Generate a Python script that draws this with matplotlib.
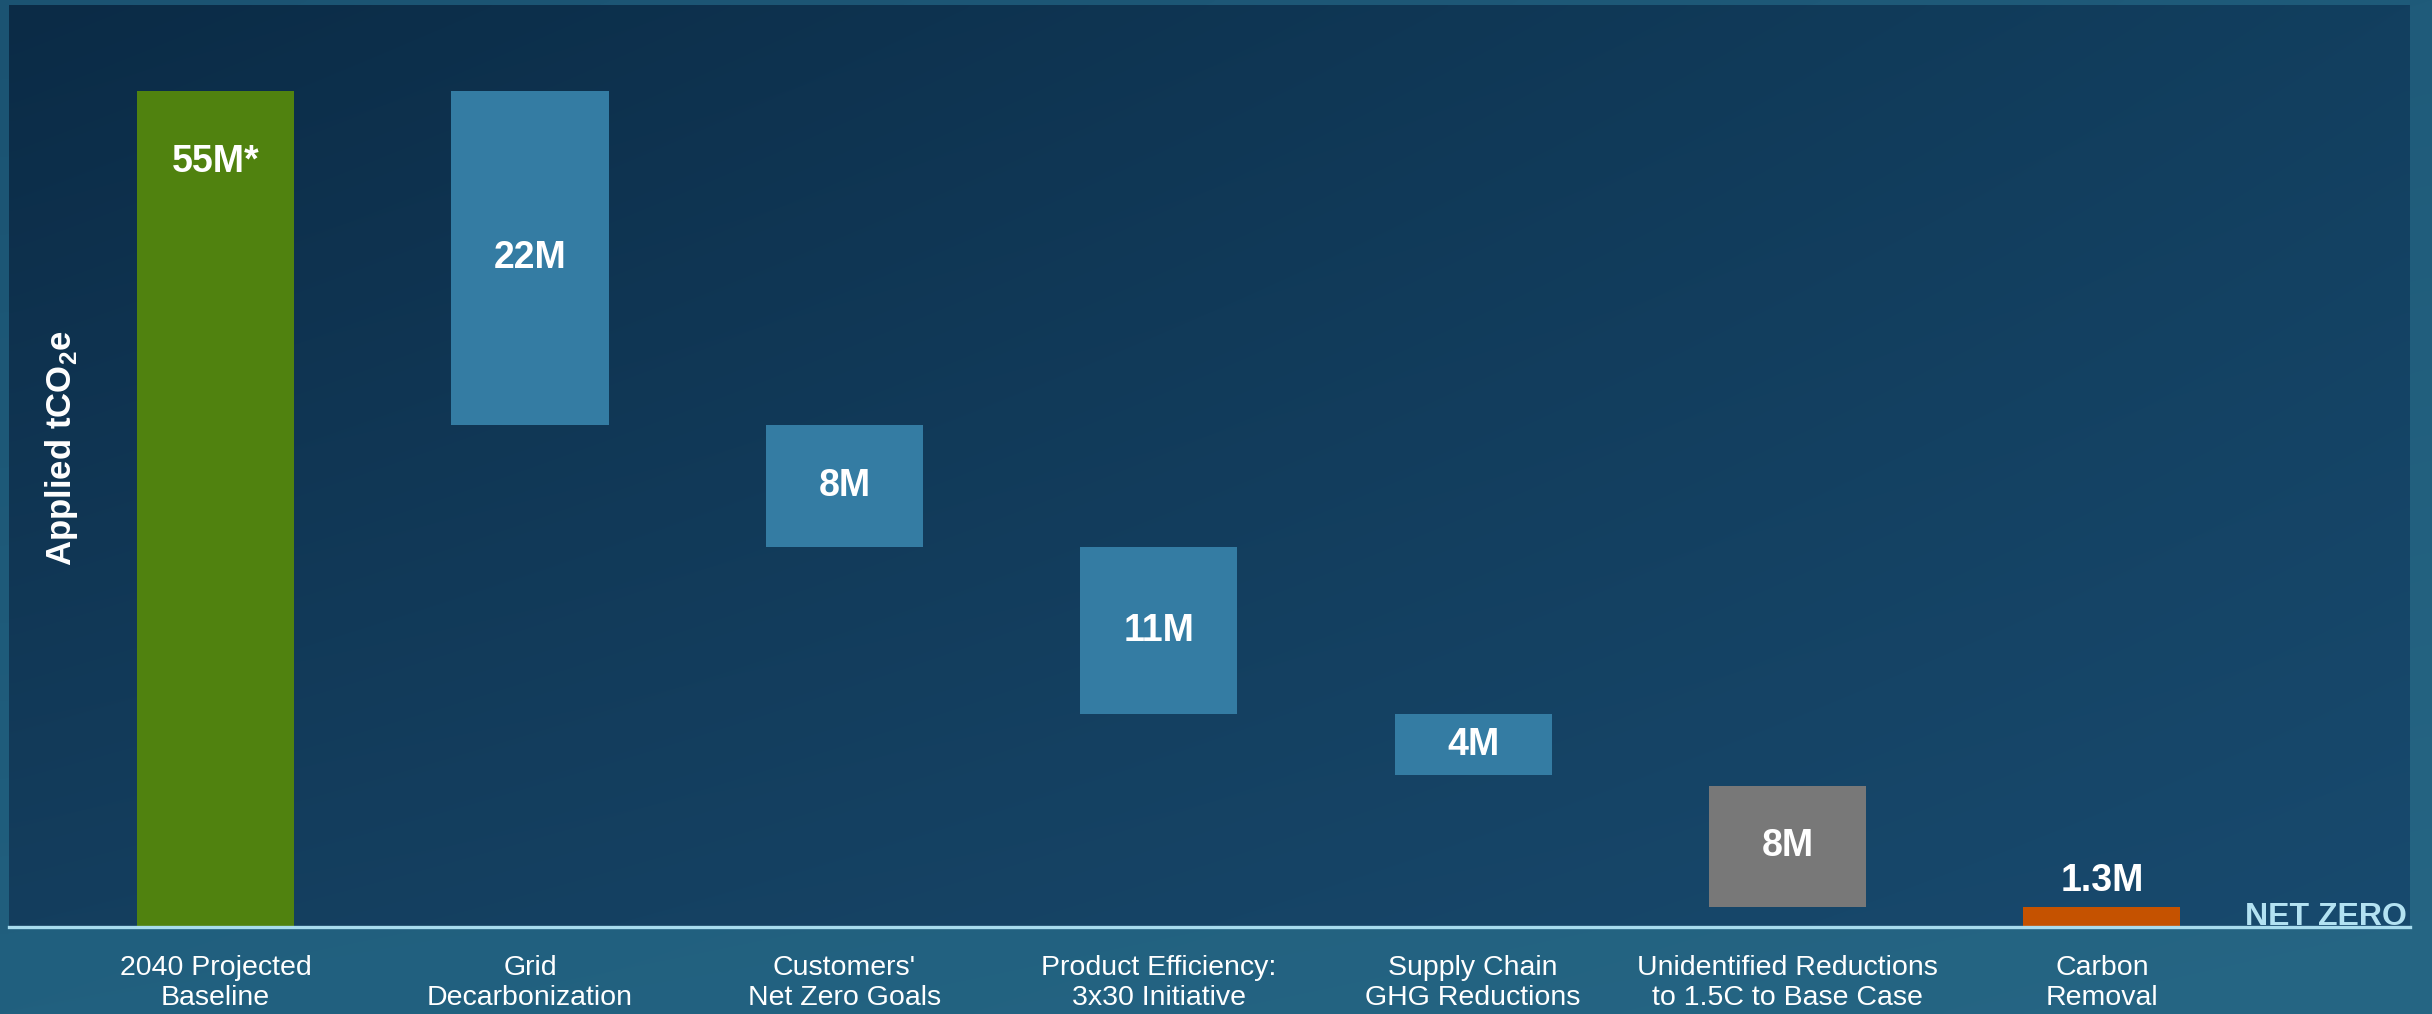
import numpy as np
import matplotlib
matplotlib.use("Agg")
import matplotlib.pyplot as plt
from matplotlib.colors import to_rgb
import matplotlib.transforms as mtransforms

plt.rcParams["font.family"] = ["Liberation Sans", "DejaVu Sans"]
plt.rcParams["mathtext.fontset"] = "custom"
plt.rcParams["mathtext.rm"] = "Liberation Sans"
plt.rcParams["mathtext.bf"] = "Liberation Sans:bold"

# ---- data -------------------------------------------------------------
categories = [
    "2040 Projected\nBaseline",
    "Grid\nDecarbonization",
    "Customers'\nNet Zero Goals",
    "Product Efficiency:\n3x30 Initiative",
    "Supply Chain\nGHG Reductions",
    "Unidentified Reductions\nto 1.5C to Base Case",
    "Carbon\nRemoval",
]
values = [55, 22, 8, 11, 4, 8, 1.3]          # million tCO2e
value_labels = ["55M*", "22M", "8M", "11M", "4M", "8M", "1.3M"]
bar_colors = ["#50820f", "#347ca3", "#347ca3", "#347ca3", "#347ca3",
              "#787878", "#c55200"]

# waterfall floors: identified reductions step down from the baseline,
# the remaining pieces stack up from net zero
bottoms = [0.0]
level = values[0]
for v in values[1:5]:
    level -= v
    bottoms.append(level)
bottoms.append(values[6])   # unidentified sits on top of carbon removal
bottoms.append(0.0)         # carbon removal starts at net zero

# ---- figure -----------------------------------------------------------
W, H = 2432, 1014
fig = plt.figure(figsize=(W / 100, H / 100), dpi=100)


def corner_gradient(tl, tr, bl, br, n=256):
    tl, tr, bl, br = (np.array(to_rgb(c)) for c in (tl, tr, bl, br))
    u = np.linspace(0, 1, n)[None, :, None]
    v = np.linspace(0, 1, n)[:, None, None]
    top = tl * (1 - u) + tr * u
    bot = bl * (1 - u) + br * u
    return top * (1 - v) + bot * v


def px(dx, dy):
    return mtransforms.ScaledTranslation(dx / 100, dy / 100, fig.dpi_scale_trans)


# outer teal backdrop
bg = fig.add_axes([0, 0, 1, 1], zorder=-2)
bg.imshow(corner_gradient("#1b5372", "#1f5b7a", "#21607f", "#266684"),
          extent=[0, 1, 0, 1], aspect="auto", interpolation="bicubic")
bg.set_axis_off()

# main plotting panel
left_px, right_px, top_px, base_px = 9, 2410, 5, 927
ax = fig.add_axes([left_px / W, (H - base_px) / H,
                   (right_px - left_px) / W, (base_px - top_px) / H])
ax.imshow(corner_gradient("#0b2b46", "#123f5f", "#143e5e", "#184a6e"),
          extent=[0, 1, 0, 1], transform=ax.transAxes, aspect="auto",
          interpolation="bicubic", zorder=0)

x = np.arange(len(categories))
ax.bar(x, values, bottom=bottoms, width=0.5, color=bar_colors,
       zorder=2, linewidth=0)

ax.set_xlim(-0.657, 6.98)
ax.set_ylim(0, 60.66)

for s in ax.spines.values():
    s.set_visible(False)
ax.set_yticks([])
ax.set_xticks(x)
ax.set_xticklabels(categories, fontsize=20.5, color="white", linespacing=1.22)
ax.tick_params(axis="x", length=0, pad=20)

# net-zero baseline
ax.axhline(0, color="#a8dcee", lw=2.4, zorder=3, clip_on=False)
ax.text(0.9987, 0, "NET ZERO", transform=ax.transAxes + px(0, 2),
        ha="right", va="baseline", fontsize=23, fontweight="bold",
        color="#b3e2f2", zorder=4)

# value labels
lab_kw = dict(ha="center", va="center", fontsize=27, fontweight="bold",
              color="white", zorder=4)
for i, (b, v, t) in enumerate(zip(bottoms, values, value_labels)):
    if i == 0:
        ax.text(i, b + v, t, transform=ax.transData + px(0, -71), **lab_kw)
    elif i == len(values) - 1:
        ax.text(i, b + v, t, transform=ax.transData + px(0, 26), **lab_kw)
    else:
        ax.text(i, b + v / 2, t, **lab_kw)

# axis title
ax.text(0.022, 0.519, r"Applied tCO$_\mathbf{2}$e", transform=ax.transAxes,
        rotation=90, ha="center", va="center", fontsize=25,
        fontweight="bold", color="white", zorder=4)

fig.savefig("out.png", dpi=100)
